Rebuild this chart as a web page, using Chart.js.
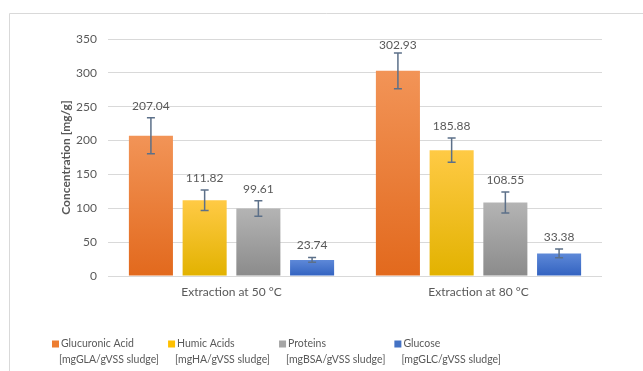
<!DOCTYPE html>
<html>
<head>
<meta charset="utf-8">
<script src="https://cdn.jsdelivr.net/npm/chart.js@4"></script>
<style>
  html, body { margin: 0; padding: 0; background: #fff; }
</style>
</head>
<body>
<canvas id="chart" width="643" height="371"></canvas>
<script>
const categories = ["Extraction at 50 °C", "Extraction at 80 °C"];
const seriesNames = [
  ["Glucuronic Acid", "[mgGLA/gVSS sludge]"],
  ["Humic Acids", "[mgHA/gVSS sludge]"],
  ["Proteins", "[mgBSA/gVSS sludge]"],
  ["Glucose", "[mgGLC/gVSS sludge]"]
];
const glucuronicAcid = [207.04, 302.93];
const humicAcids = [111.82, 185.88];
const proteins = [99.61, 108.55];
const glucose = [23.74, 33.38];
// error bar half-widths
const glucuronicErr = [26.5, 26.5];
const humicErr = [15, 18];
const proteinsErr = [11.5, 15.5];
const glucoseErr = [3.5, 6.5];

const textColor = "#595959";
const fontFamily = "Lato, 'Open Sans', sans-serif";

// [top, bottom, legend swatch]
const palette = [
  ["#f29457", "#e2691d", "#ed7d31"],
  ["#ffca45", "#e2b200", "#ffc000"],
  ["#b4b4b4", "#8b8b8b", "#a5a5a5"],
  ["#5e89d8", "#3262c0", "#4472c4"]
];

function barGradient(i) {
  return (ctx) => {
    const chart = ctx.chart;
    if (!chart.chartArea || ctx.type !== "data") return palette[i][2];
    const y = chart.scales.y;
    const top = y.getPixelForValue(ctx.raw);
    const bottom = y.getPixelForValue(0);
    if (!isFinite(top) || top === bottom) return palette[i][2];
    const g = chart.ctx.createLinearGradient(0, top, 0, bottom);
    g.addColorStop(0, palette[i][0]);
    g.addColorStop(1, palette[i][1]);
    return g;
  };
}

const values = [glucuronicAcid, humicAcids, proteins, glucose];
const errors = [glucuronicErr, humicErr, proteinsErr, glucoseErr];

const datasets = values.map((v, i) => ({
  label: seriesNames[i],
  data: v,
  errors: errors[i],
  backgroundColor: barGradient(i),
  swatch: palette[i][2],
  borderWidth: 0,
  barPercentage: 0.82,
  categoryPercentage: 0.87
}));

const framePlugin = {
  id: "frame",
  beforeDraw(chart) {
    const c = chart.ctx;
    c.save();
    c.strokeStyle = "#d9d9d9";
    c.lineWidth = 1;
    c.beginPath();
    c.moveTo(9.5, chart.height);
    c.lineTo(9.5, 13.5);
    c.lineTo(chart.width, 13.5);
    c.stroke();
    c.restore();
  }
};

const errorPlugin = {
  id: "errorsAndLabels",
  afterDatasetsDraw(chart) {
    const c = chart.ctx;
    const y = chart.scales.y;
    c.save();
    chart.data.datasets.forEach((ds, i) => {
      const meta = chart.getDatasetMeta(i);
      meta.data.forEach((bar, j) => {
        const v = ds.data[j];
        const e = ds.errors[j];
        const yt = y.getPixelForValue(v + e);
        const yb = y.getPixelForValue(v - e);
        c.strokeStyle = "#5c7089";
        c.lineWidth = 1.5;
        c.beginPath();
        c.moveTo(bar.x, yt);
        c.lineTo(bar.x, yb);
        c.moveTo(bar.x - 4, yt);
        c.lineTo(bar.x + 4, yt);
        c.moveTo(bar.x - 4, yb);
        c.lineTo(bar.x + 4, yb);
        c.stroke();
        c.fillStyle = textColor;
        c.font = "12px " + fontFamily;
        c.textAlign = "center";
        c.textBaseline = "middle";
        c.fillText(v.toFixed(2), bar.x, Math.max(yt - 12, 45));
      });
    });
    c.restore();
  }
};

const legendPlugin = {
  id: "bottomLegend",
  afterDraw(chart) {
    const c = chart.ctx;
    c.save();
    c.font = "10.5px " + fontFamily;
    c.textBaseline = "middle";
    c.textAlign = "left";
    let x = 52;
    const y1 = 344, y2 = 360;
    chart.data.datasets.forEach((ds) => {
      c.fillStyle = ds.swatch;
      c.fillRect(x, y1 - 3.5, 7, 7);
      c.fillStyle = textColor;
      c.fillText(ds.label[0], x + 9, y1);
      c.fillText(ds.label[1], x + 7, y2);
      const w = Math.max(c.measureText(ds.label[0]).width + 9, c.measureText(ds.label[1]).width + 7);
      x += w + 9;
    });
    c.restore();
  }
};

new Chart(document.getElementById("chart"), {
  type: "bar",
  data: { labels: categories, datasets: datasets },
  options: {
    responsive: false,
    animation: false,
    layout: { padding: { left: 0, top: 39, right: 41, bottom: 65 } },
    plugins: {
      legend: { display: false },
      tooltip: { enabled: false }
    },
    scales: {
      x: {
        grid: { display: false, drawTicks: false },
        border: { display: false },
        ticks: { color: textColor, font: { family: fontFamily, size: 12 }, padding: 9 },
        afterFit: (s) => { s.height = 30; }
      },
      y: {
        min: 0,
        max: 350,
        ticks: { stepSize: 50, color: textColor, font: { family: fontFamily, size: 12 }, padding: 11 },
        grid: { color: "#d9d9d9", drawTicks: false },
        border: { display: false },
        title: {
          display: true,
          text: "Concentration [mg/g]",
          color: textColor,
          font: { family: fontFamily, size: 12, weight: "bold" },
          padding: { top: 59, bottom: 0 }
        },
        afterFit: (s) => { s.width = 108; }
      }
    }
  },
  plugins: [framePlugin, errorPlugin, legendPlugin]
});
</script>
</body>
</html>
